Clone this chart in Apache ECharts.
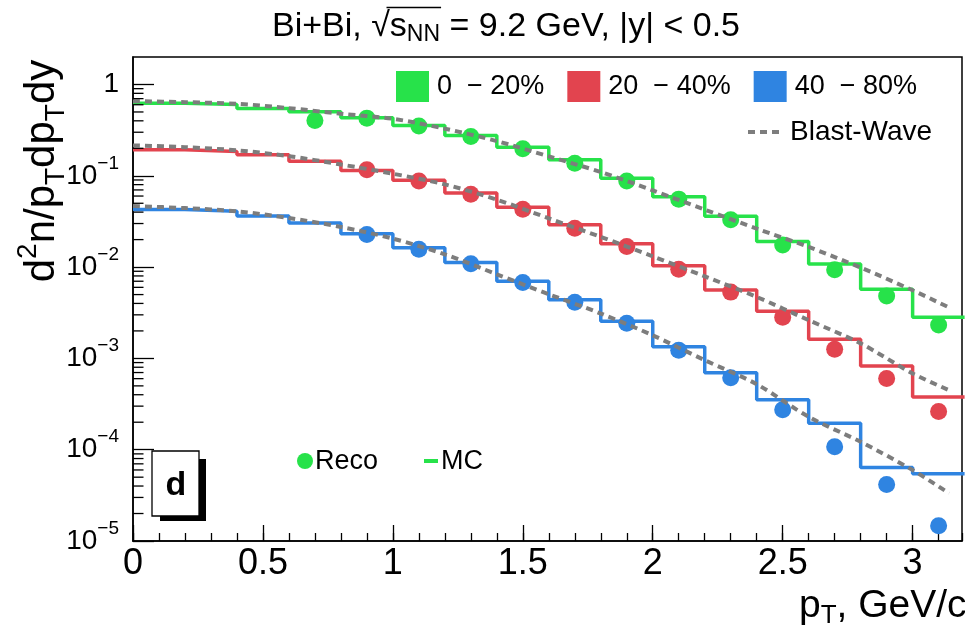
<!DOCTYPE html>
<html><head><meta charset="utf-8">
<script src="https://cdn.jsdelivr.net/npm/echarts@6/dist/echarts.min.js"></script>
<style>html,body{margin:0;padding:0;background:#fff}#c{width:965px;height:631px}</style>
</head><body><div id="c"></div>
<script>
// ---- data ----
const binEdges = [0,0.2,0.4,0.6,0.8,1.0,1.2,1.4,1.6,1.8,2.0,2.2,2.4,2.6,2.8,3.0,3.2];
const mc_0_20  = [0.624,0.604,0.546,0.503,0.432,0.356,0.277,0.205,0.150,0.0937,0.0588,0.036,0.0191,0.0108,0.00571,0.00282];
const mc_20_40 = [0.193,0.185,0.170,0.144,0.1146,0.0891,0.0647,0.0451,0.0291,0.0180,0.01033,0.00561,0.00328,0.00162,0.000824,0.000378];
const mc_40_80 = [0.0426,0.0408,0.0362,0.0304,0.0232,0.0163,0.0112,0.0070,0.00439,0.00255,0.00134,0.000695,0.000353,0.000195,0.0000637,0.0000546];

const recoX_0_20 = [0.7,0.9,1.1,1.3,1.5,1.7,1.9,2.1,2.3,2.5,2.7,2.9,3.1];
const reco_0_20  = [0.404,0.428,0.350,0.270,0.198,0.1374,0.0877,0.0555,0.0330,0.0175,0.00933,0.00482,0.00232];
const recoX      = [0.9,1.1,1.3,1.5,1.7,1.9,2.1,2.3,2.5,2.7,2.9,3.1];
const reco_20_40 = [0.1166,0.0875,0.0626,0.0429,0.0267,0.0168,0.00948,0.00532,0.00282,0.00126,0.000603,0.000262];
const reco_40_80 = [0.0227,0.01566,0.0109,0.00677,0.00413,0.00242,0.00123,0.000614,0.000274,0.0001076,0.0000416,0.0000147];

const bwX      = [0,0.2,0.4,0.6,0.8,1.0,1.2,1.4,1.6,1.8,2.0,2.2,2.4,2.6,2.8,3.0,3.14];
const bw_0_20  = [0.657,0.640,0.615,0.551,0.478,0.421,0.328,0.240,0.163,0.110,0.0692,0.0426,0.0264,0.0166,0.00988,0.00557,0.00361];
const bw_20_40 = [0.215,0.206,0.190,0.164,0.133,0.1054,0.0805,0.0548,0.0342,0.0214,0.0131,0.00792,0.00471,0.00262,0.00146,0.000684,0.000449];
const bw_40_80 = [0.0466,0.0443,0.0408,0.0345,0.0275,0.0205,0.0138,0.00834,0.00504,0.00310,0.00179,0.000955,0.000522,0.000229,0.000122,0.0000598,0.0000333];

const centralityNames = ['0  \u2212 20%','20  \u2212 40%','40  \u2212 80%'];
const xTickLabels = {'0':'0','0.5':'0.5','1':'1','1.5':'1.5','2':'2','2.5':'2.5','3':'3'};
const yTickExponents = [-5,-4,-3,-2,-1,0];
const yTickLabels = ['10{s|\u22125}','10{s|\u22124}','10{s|\u22123}','10{s|\u22122}','10{s|\u22121}','1'];
const yMinorMantissas = [2,3,4,5,6,7,8,9];

// ---- styling ----
const FONT = '"Liberation Sans", Arial, Helvetica, sans-serif';
const COLORS = ['#27e24a','#e2444f','#2f84e1'];
const GRAY = '#7d7d7d';

const yMinorTicks = [];
yTickExponents.forEach(e => yMinorMantissas.forEach(m => { const v = m*Math.pow(10,e); if (v < 2) yMinorTicks.push([0, v]); }));

function stepData(vals){ return binEdges.map((e,i)=>[e, vals[Math.min(i, vals.length-1)]]); }
function zip(xs, ys){ return xs.map((x,i)=>[x, ys[i]]); }

const mcSets = [mc_0_20, mc_20_40, mc_40_80];
const recoSets = [zip(recoX_0_20, reco_0_20), zip(recoX, reco_20_40), zip(recoX, reco_40_80)];
const bwSets = [bw_0_20, bw_20_40, bw_40_80];

const series = [];
mcSets.forEach((vals,i)=>{
  series.push({name: centralityNames[i], type:'line', step:'end', data: stepData(vals), symbol:'none',
    lineStyle:{color: COLORS[i], width:3.5}, itemStyle:{color: COLORS[i]}, z:2, animation:false});
});
recoSets.forEach((d,i)=>{
  series.push({name:'reco'+i, type:'scatter', data:d, symbol:'circle', symbolSize:17,
    itemStyle:{color: COLORS[i], opacity:1}, z:3, animation:false});
});
bwSets.forEach((vals,i)=>{
  series.push({name:'Blast-Wave', type:'line', data: zip(bwX, vals), smooth:0.3, symbol:'none',
    lineStyle:{color: GRAY, width:4, type:[7,5]}, itemStyle:{color: GRAY}, z:4, animation:false});
});
series.push({name:'yminor', type:'custom', data: yMinorTicks, z:5, silent:true, animation:false,
  renderItem:(params, api)=>{
    const p = api.coord([0, api.value(1)]);
    return {type:'line', shape:{x1:p[0], y1:p[1], x2:p[0]+10.5, y2:p[1]}, style:{stroke:'#000', lineWidth:1.3}};
  }});

// ---- title layout (sqrt overline) ----
const ctx = document.createElement('canvas').getContext('2d');
function tw(t, s){ ctx.font = s + 'px ' + FONT; return ctx.measureText(t).width; }
const TS = 34, TSUB = 23, TCX = 506, TCY = 27;
const tParts = [['Bi+Bi, ',TS],['\u221A',TS],['s',TS],['NN',TSUB],[' = 9.2 GeV, |y| < 0.5',TS]];
const tW = tParts.reduce((a,p)=>a+tw(p[0],p[1]),0);
const tx0 = TCX - tW/2;
const ovX1 = tx0 + tw(tParts[0][0],TS) + tw('\u221A',TS)*0.82;
const ovX2 = tx0 + tw(tParts[0][0],TS) + tw('\u221A',TS) + tw('s',TS) + tw('NN',TSUB) + 1;

const option = {
  backgroundColor:'#fff',
  animation:false,
  textStyle:{fontFamily: FONT},
  grid:{left:133, top:57, width:829, height:484, show:true, borderColor:'#000', borderWidth:1.5, backgroundColor:'transparent'},
  xAxis:[{
    type:'value', min:0, max:3.19, interval:0.5, gridIndex:0,
    axisLine:{show:true, lineStyle:{color:'#000', width:1.5}},
    axisTick:{show:true, inside:true, length:16, lineStyle:{color:'#000', width:1.3}},
    splitLine:{show:false},
    axisLabel:{show:true, showMaxLabel:false, margin:5, color:'#000', fontSize:36, fontFamily:FONT,
      formatter: v => { const k = String(+v.toFixed(1)); return xTickLabels[k] !== undefined ? xTickLabels[k] : ''; }}
  },{
    type:'value', min:0, max:3.19, interval:0.1, gridIndex:0, position:'bottom',
    axisLine:{show:false}, axisLabel:{show:false}, splitLine:{show:false},
    axisTick:{show:true, inside:true, length:8, lineStyle:{color:'#000', width:1.3}}
  }],
  yAxis:{
    type:'log', logBase:10, min:1e-5, max:2, interval:1,
    axisLine:{show:true, lineStyle:{color:'#000', width:1.5}},
    axisTick:{show:true, inside:true, length:21, lineStyle:{color:'#000', width:1.3}},
    splitLine:{show:false}, minorTick:{show:false},
    axisLabel:{show:true, showMaxLabel:false, margin:14, color:'#000', fontSize:28, lineHeight:44, fontFamily:FONT,
      formatter: v => { const e = Math.round(Math.log10(v)); const i = yTickExponents.indexOf(e); return i<0 ? '' : yTickLabels[i]; },
      rich:{ s:{fontSize:19, lineHeight:20, fontFamily:FONT, color:'#000', verticalAlign:'top'} }
    }
  },
  legend:[{
    data: centralityNames, left:396, top:71, padding:0, orient:'horizontal', icon:'rect', itemWidth:33, itemHeight:31, itemGap:23,
    selectedMode:false, textStyle:{fontSize:27, color:'#000', fontFamily:FONT, padding:[0,0,0,3]}
  }],
  graphic:[
    {type:'text', x:TCX, y:TCY, z:10, style:{text:'Bi+Bi, \u221As{sub|NN} = 9.2 GeV, |y| < 0.5', fill:'#000', font:TS+'px '+FONT, lineHeight:39, textAlign:'center', textVerticalAlign:'middle',
      rich:{ sub:{fontSize:TSUB, lineHeight:TSUB, fontFamily:FONT, verticalAlign:'bottom'} }}},
    {type:'line', shape:{x1:ovX1, y1:7.5, x2:ovX2, y2:7.5}, style:{stroke:'#000', lineWidth:1.5}, z:10},
    {type:'text', x:42, y:171, rotation:Math.PI/2, z:10, style:{text:'d{sup|2}n/p{sub|T}dp{sub|T}dy', fill:'#000', font:'42px '+FONT, lineHeight:56, textAlign:'center', textVerticalAlign:'middle',
      rich:{ sup:{fontSize:28, lineHeight:28, fontFamily:FONT, verticalAlign:'top'}, sub:{fontSize:28, lineHeight:36, fontFamily:FONT, verticalAlign:'bottom'} }}},
    {type:'text', x:799, y:606, z:10, style:{text:'p{sub|T}, GeV/c', fill:'#000', font:'39px '+FONT, lineHeight:46, textAlign:'left', textVerticalAlign:'middle',
      rich:{ sub:{fontSize:26, lineHeight:26, fontFamily:FONT, verticalAlign:'bottom'} }}},
    // Blast-Wave legend entry
    {type:'line', shape:{x1:748, y1:132, x2:782, y2:132}, style:{stroke:GRAY, lineWidth:4, lineDash:[7,5]}, z:10},
    {type:'text', x:790, y:132, z:10, style:{text:'Blast-Wave', fill:'#000', font:'28px '+FONT, textAlign:'left', textVerticalAlign:'middle'}},
    // panel label box with shadow
    {type:'rect', shape:{x:160, y:459, width:46, height:62}, style:{fill:'#000'}, z:10},
    {type:'rect', shape:{x:152, y:451, width:47, height:65}, style:{fill:'#fff', stroke:'#000', lineWidth:1.3}, z:11},
    {type:'text', x:176, y:486, z:12, style:{text:'d', fill:'#000', font:'bold 34px '+FONT, textAlign:'center', textVerticalAlign:'middle'}},
    // Reco / MC legend
    {type:'circle', shape:{cx:305, cy:461, r:8}, style:{fill: COLORS[0]}, z:10},
    {type:'text', x:315, y:462, z:10, style:{text:'Reco', fill:'#000', font:'27px '+FONT, textAlign:'left', textVerticalAlign:'middle'}},
    {type:'rect', shape:{x:424, y:459, width:14, height:4}, style:{fill: COLORS[0]}, z:10},
    {type:'text', x:441, y:462, z:10, style:{text:'MC', fill:'#000', font:'27px '+FONT, textAlign:'left', textVerticalAlign:'middle'}}
  ],
  series: series
};
const chart = echarts.init(document.getElementById('c'));
chart.setOption(option);
</script>
</body></html>
